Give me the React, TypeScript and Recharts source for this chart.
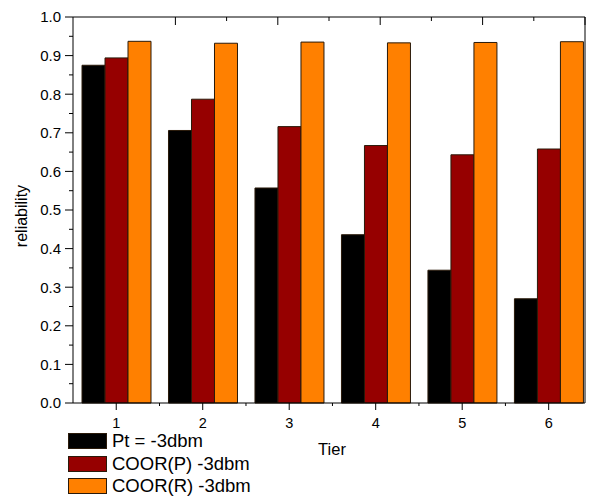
import { BarChart, Bar, XAxis, YAxis } from 'recharts'

const tiers = [1, 2, 3, 4, 5, 6]
const ptValues = [0.875, 0.706, 0.557, 0.436, 0.344, 0.27]
const coorPValues = [0.894, 0.787, 0.716, 0.667, 0.643, 0.658]
const coorRValues = [0.937, 0.932, 0.935, 0.933, 0.934, 0.936]

const xTicks = [1, 1.5, 2, 2.5, 3, 3.5, 4, 4.5, 5, 5.5, 6]
const yTicks = [0, 0.05, 0.1, 0.15, 0.2, 0.25, 0.3, 0.35, 0.4, 0.45, 0.5, 0.55, 0.6, 0.65, 0.7, 0.75, 0.8, 0.85, 0.9, 0.95, 1]

const series = [
  { key: 'pt', name: 'Pt = -3dbm', color: '#000000' },
  { key: 'coorP', name: 'COOR(P) -3dbm', color: '#960000' },
  { key: 'coorR', name: 'COOR(R) -3dbm', color: '#ff8000' },
]

const data = tiers.map((tier, i) => ({
  tier,
  pt: ptValues[i],
  coorP: coorPValues[i],
  coorR: coorRValues[i],
}))

const FONT = 'Arial, "Liberation Sans", sans-serif'

const isMajor = (v: number) => Math.abs(v * 10 - Math.round(v * 10)) < 1e-6
const isInt = (v: number) => Math.abs(v - Math.round(v)) < 1e-6

// custom ticks: tickSize/tickMargin are 0 so x/y sit on the axis line
const BottomTick = (props: any) => {
  const { x, y, payload } = props
  const major = isInt(payload.value)
  return (
    <g>
      <line x1={x} x2={x} y1={y} y2={y + (major ? 7 : 3)} stroke="#000" />
      {major && (
        <text x={x} y={y + 25} textAnchor="middle" fontSize={14.5} fontFamily={FONT} fill="#000">
          {payload.value}
        </text>
      )}
    </g>
  )
}

const TopTick = (props: any) => {
  const { x, y, payload } = props
  const major = isInt(payload.value)
  return <line x1={x} x2={x} y1={y} y2={y + (major ? 8 : 4)} stroke="#000" />
}

const LeftTick = (props: any) => {
  const { x, y, payload } = props
  const major = isMajor(payload.value)
  return (
    <g>
      <line x1={x - (major ? 8 : 4)} x2={x} y1={y} y2={y} stroke="#000" />
      {major && (
        <text x={x - 12} y={y} dy="0.36em" textAnchor="end" fontSize={15} fontFamily={FONT} fill="#000">
          {payload.value.toFixed(1)}
        </text>
      )}
    </g>
  )
}

const RightTick = (props: any) => {
  const { x, y, payload } = props
  const major = isMajor(payload.value)
  return <line x1={x} x2={x + (major ? 5 : 2)} y1={y} y2={y} stroke="#000" />
}

const YLabel = (props: any) => {
  const { viewBox } = props
  const cx = viewBox.x + 21
  const cy = viewBox.y + viewBox.height / 2 + 6
  return (
    <text
      x={cx}
      y={cy}
      transform={`rotate(-90 ${cx} ${cy})`}
      textAnchor="middle"
      dominantBaseline="central"
      fontSize={16}
      fontFamily={FONT}
      fill="#000"
    >
      reliability
    </text>
  )
}

export default function App() {
  return (
    <div style={{ position: 'absolute', left: 0, top: 0, width: 589, height: 497, background: '#fff', fontFamily: FONT }}>
      <BarChart
        width={589}
        height={497}
        data={data}
        margin={{ top: 0, right: 0, bottom: 0, left: 0 }}
        barGap={0}
      >
        <XAxis
          xAxisId="b"
          dataKey="tier"
          type="number"
          domain={[0.5, 6.42]}
          allowDataOverflow
          ticks={xTicks}
          interval={0}
          height={94}
          tickSize={0}
          tickMargin={0}
          tickLine={false}
          axisLine={{ stroke: '#000' }}
          tick={<BottomTick />}
          label={{ value: 'Tier', position: 'insideTop', offset: 40, dx: 3, fontSize: 16.5, fill: '#000', fontFamily: FONT }}
        />
        <XAxis
          xAxisId="t"
          orientation="top"
          type="number"
          domain={[0.5, 6.42]}
          allowDataOverflow
          ticks={xTicks}
          interval={0}
          height={17}
          tickSize={0}
          tickMargin={0}
          tickLine={false}
          axisLine={{ stroke: '#000' }}
          tick={<TopTick />}
        />
        <YAxis
          yAxisId="l"
          type="number"
          domain={[0, 1]}
          ticks={yTicks}
          interval={0}
          width={73}
          tickSize={0}
          tickMargin={0}
          tickLine={false}
          axisLine={{ stroke: '#000' }}
          tick={<LeftTick />}
          label={<YLabel />}
        />
        <YAxis
          yAxisId="r"
          orientation="right"
          type="number"
          domain={[0, 1]}
          ticks={yTicks}
          interval={0}
          width={4}
          tickSize={0}
          tickMargin={0}
          tickLine={false}
          axisLine={{ stroke: '#000' }}
          tick={<RightTick />}
        />
        {series.map((s) => (
          <Bar
            key={s.key}
            xAxisId="b"
            yAxisId="l"
            dataKey={s.key}
            name={s.name}
            fill={s.color}
            stroke="#2a1a0a"
            strokeWidth={1}
            barSize={23}
            isAnimationActive={false}
          />
        ))}
      </BarChart>
      <div style={{ position: 'absolute', left: 68, top: 430 }}>
        {series.map((s) => (
          <div key={s.key} style={{ display: 'flex', alignItems: 'center', height: 22.5 }}>
            <div
              style={{
                width: 37,
                height: 14,
                background: s.color,
                border: '1px solid #2a1a0a',
                marginRight: 5,
              }}
            />
            <span style={{ fontSize: 18.5, lineHeight: '18px', color: '#000' }}>{s.name}</span>
          </div>
        ))}
      </div>
    </div>
  )
}
